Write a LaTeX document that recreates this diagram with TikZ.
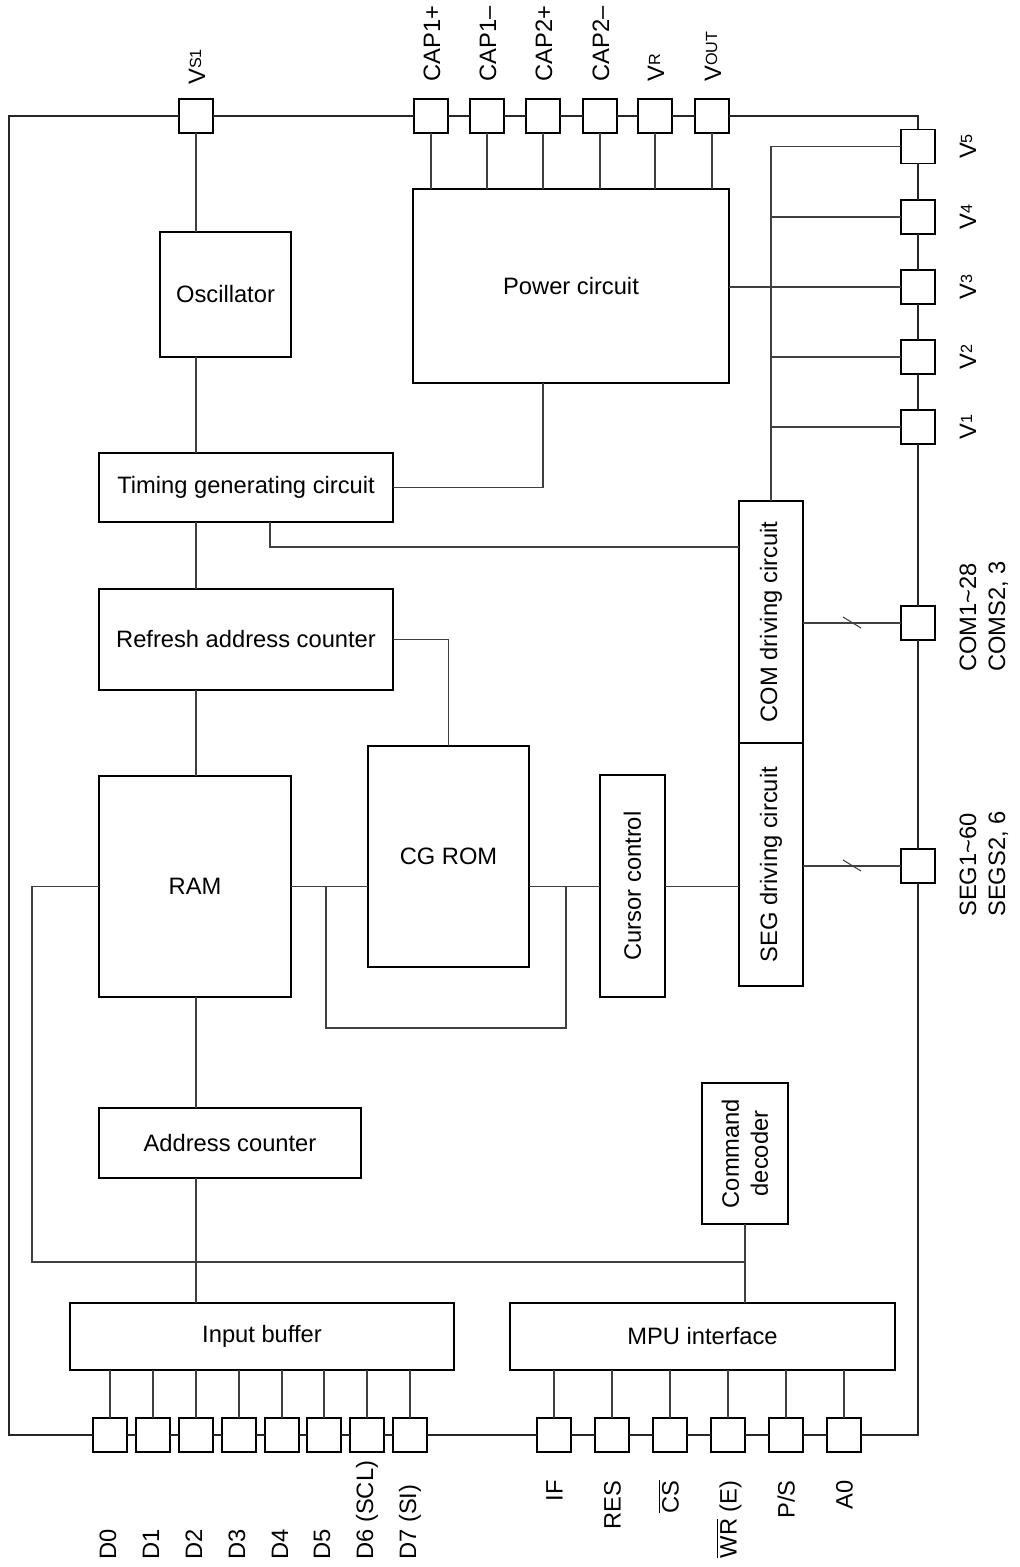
\documentclass[tikz,border=0pt]{standalone}
\usepackage{fontspec}
\setmainfont{Liberation Sans}
\newcommand\sbs[1]{\raisebox{2.2pt}{\fontsize{9.2}{10}\selectfont #1}}
\newcommand\mkblk[6]{\node[blk, minimum width={(#4-#2)*0.02cm}, minimum height={(#5-#3)*0.02cm}] (#1) at (#2,#3) {#6};}
\tikzset{
  blk/.style={draw=black, line width=1pt, inner sep=0pt, outer sep=0pt, anchor=north west, align=center, fill=white},
  pad/.style={draw=black, line width=1pt, fill=white, minimum size=0.68cm, inner sep=0pt, outer sep=0pt},
  wire/.style={draw=black!75, line width=0.6pt},
  frame/.style={draw=black!85, line width=0.8pt},
  lbl/.style={rotate=90, inner sep=0pt},
}
\begin{document}
\begin{tikzpicture}[x=0.02cm, y=-0.02cm, font=\fontsize{13.5}{16.5}\selectfont]
\useasboundingbox (0,0) rectangle (1019,1567);

% pads
\foreach \nn/\xx in {vs1/196, cap1p/431, cap1m/487, cap2p/543, cap2m/600, vr/655, vout/712}
  \node[pad] (\nn) at (\xx,116) {};
\foreach \nn/\yy in {v5/146.5, v4/217, v3/287, v2/357, v1/427, comp/623, segp/866}
  \node[pad] (\nn) at (918,\yy) {};
\foreach \nn/\xx in {d0/110, d1/153, d2/196, d3/239, d4/282, d5/324, d6/367, d7/410, pif/554, res/612, cs/670, wr/728, ps/786, a0/844}
  \node[pad] (\nn) at (\xx,1435) {};

% blocks
\mkblk{osc}{160}{232}{291}{357}{Oscillator}
\mkblk{tim}{99}{453}{393}{522}{Timing generating circuit}
\mkblk{ref}{99}{589}{393}{690}{Refresh address counter}
\mkblk{ram}{99}{776}{291}{997}{RAM}
\mkblk{adr}{99}{1108}{361}{1178}{Address counter}
\mkblk{ib}{70}{1303}{454}{1370}{Input buffer}
\mkblk{mpu}{510}{1303}{895}{1370}{MPU interface}
\mkblk{cmd}{702}{1083}{788}{1224}{}
\mkblk{pw}{413}{189}{729}{383}{Power circuit}
\mkblk{cg}{368}{746}{529}{967}{CG ROM}
\mkblk{cur}{600}{775}{665}{997}{}
\mkblk{com}{739}{501}{803}{743}{}
\mkblk{seg}{739}{743}{803}{986}{}

\node[lbl, align=center] (tcmd) at (cmd.center) {Command\\decoder};
\node[lbl] (tcur) at (cur.center) {Cursor control};
\node[lbl] (tcom) at (com.center) {COM driving circuit};
\node[lbl] (tseg) at (seg.center) {SEG driving circuit};

% outer frame
\coordinate (tl) at (9,116);
\coordinate (bl) at (9,1435);
\coordinate (br) at (918,1435);
\coordinate (tr) at (918,116);
\draw[frame] (vs1.west) -- (tl) -- (bl) -- (d0.west);
\draw[frame] (vs1.east) -- (cap1p.west);
\foreach \aa/\bb in {cap1p/cap1m, cap1m/cap2p, cap2p/cap2m, cap2m/vr, vr/vout}
  \draw[frame] (\aa.east) -- (\bb.west);
\draw[frame] (vout.east) -- (tr) -- (v5.north);
\foreach \aa/\bb in {v5/v4, v4/v3, v3/v2, v2/v1, v1/comp, comp/segp}
  \draw[frame] (\aa.south) -- (\bb.north);
\draw[frame] (segp.south) -- (br) -- (a0.east);
\foreach \aa/\bb in {d0/d1, d1/d2, d2/d3, d3/d4, d4/d5, d5/d6, d6/d7, d7/pif, pif/res, res/cs, cs/wr, wr/ps, ps/a0}
  \draw[frame] (\aa.east) -- (\bb.west);

% wires
\draw[wire] (vs1.south) -- (vs1.south |- osc.north);
\draw[wire] (vs1 |- osc.south) -- (vs1 |- tim.north);
\draw[wire] (vs1 |- tim.south) -- (vs1 |- ref.north);
\draw[wire] (vs1 |- ref.south) -- (vs1 |- ram.north);
\draw[wire] (vs1 |- ram.south) -- (vs1 |- adr.north);
\draw[wire] (vs1 |- adr.south) -- (vs1 |- ib.north);
\foreach \nn in {cap1p, cap1m, cap2p, cap2m, vr, vout}
  \draw[wire] (\nn.south) -- (\nn.south |- pw.north);
\draw[wire] (pw.east |- v3.west) -- (v3.west);
\draw[wire] (v5.west) -- (v5.west -| com.north) -- (com.north);
\foreach \nn in {v4, v2, v1}
  \draw[wire] (\nn.west) -- (\nn.west -| com.north);
\draw[wire] (pw.south -| cap2p) -- (tim.east -| cap2p) -- (tim.east);
\coordinate (tj) at (270,547);
\draw[wire] (tim.south -| tj) -- (tj) -- (tj -| com.west);
\draw[wire] (ref.east) -| (cg.north);
\draw[wire] (ram.east) -- (ram.east -| cg.west);
\draw[wire] (ram.east -| cg.east) -- (ram.east -| cur.west);
\draw[wire] (ram.east -| cur.east) -- (ram.east -| seg.west);
\coordinate (la) at (326,1028);
\coordinate (lb) at (566,1028);
\draw[wire] (ram.east -| la) -- (la) -- (lb) -- (ram.east -| lb);
\coordinate (il) at (32,1262);
\draw[wire] (ram.west) -| (il) -- (il -| cmd.south);
\draw[wire] (cmd.south) -- (cmd.south |- mpu.north);
\foreach \nn in {d0, d1, d2, d3, d4, d5, d6, d7}
  \draw[wire] (\nn.north) -- (\nn.north |- ib.south);
\foreach \nn in {pif, res, cs, wr, ps, a0}
  \draw[wire] (\nn.north) -- (\nn.north |- mpu.south);
\draw[wire] (comp.west -| com.east) -- (comp.west);
\draw[wire] (comp.west) ++(-58,-6) -- ++(18,11);
\draw[wire] (segp.west -| seg.east) -- (segp.west);
\draw[wire] (segp.west) ++(-58,-6) -- ++(18,11);

% top labels
\node[lbl, anchor=base west] (lvs1) at (205,85) {V\sbs{S1}};
\node[lbl, anchor=base west] (lc1p) at (440,82) {CAP1+};
\node[lbl, anchor=base west] (lc1m) at (496,82) {CAP1\textendash};
\node[lbl, anchor=base west] (lc2p) at (552,82) {CAP2+};
\node[lbl, anchor=base west] (lc2m) at (609,82) {CAP2\textendash};
\node[lbl, anchor=base west] (lvr) at (664,82) {V\sbs{R}};
\node[lbl, anchor=base west] (lvout) at (721,82) {V\sbs{OUT}};

% right labels
\node[lbl, anchor=base] (lv5) at (976,146.5) {V\sbs{5}};
\node[lbl, anchor=base] (lv4) at (976,217) {V\sbs{4}};
\node[lbl, anchor=base] (lv3) at (976,287) {V\sbs{3}};
\node[lbl, anchor=base] (lv2) at (976,357) {V\sbs{2}};
\node[lbl, anchor=base] (lv1) at (976,427) {V\sbs{1}};
\node[lbl, anchor=base west] (lcom1) at (976,672) {COM1\textasciitilde28};
\node[lbl, anchor=base west] (lcom2) at (1005,672) {COMS2, 3};
\node[lbl, anchor=base west] (lseg1) at (976,917) {SEG1\textasciitilde60};
\node[lbl, anchor=base west] (lseg2) at (1005,917) {SEGS2, 6};

% bottom labels
\node[lbl, anchor=base west] (ld0) at (116,1560) {D0};
\node[lbl, anchor=base west] (ld1) at (159,1560) {D1};
\node[lbl, anchor=base west] (ld2) at (202,1560) {D2};
\node[lbl, anchor=base west] (ld3) at (245,1560) {D3};
\node[lbl, anchor=base west] (ld4) at (288,1560) {D4};
\node[lbl, anchor=base west] (ld5) at (330,1560) {D5};
\node[lbl, anchor=base west] (ld6) at (373,1560) {D6 (SCL)};
\node[lbl, anchor=base west] (ld7) at (416,1560) {D7 (SI)};
\node[lbl, anchor=base east] (lif) at (562.5,1480) {IF};
\node[lbl, anchor=base east] (lres) at (620.5,1480) {RES};
\node[lbl, anchor=base east] (lcs) at (678.5,1480) {$\overline{\mbox{CS}}$};
\node[lbl, anchor=base east] (lwr) at (736.5,1480) {$\overline{\mbox{WR}}$ (E)};
\node[lbl, anchor=base east] (lps) at (794.5,1480) {P/S};
\node[lbl, anchor=base east] (la0) at (852.5,1480) {A0};
\end{tikzpicture}
\end{document}
